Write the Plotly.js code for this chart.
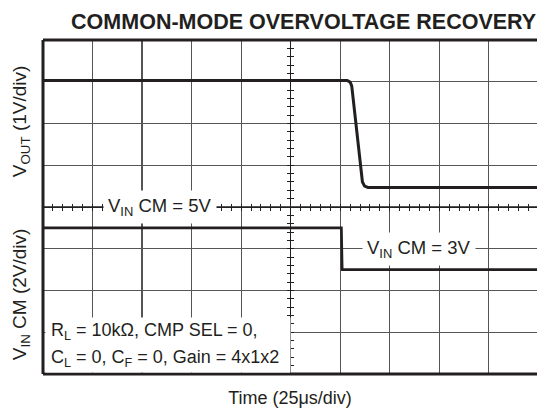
<!DOCTYPE html>
<html>
<head>
<meta charset="utf-8">
<script src="https://cdn.plot.ly/plotly-3.0.1.min.js"></script>
<style>html,body{margin:0;padding:0;background:#fff;}#chart{width:537px;height:414px;}</style>
</head>
<body>
<div id="chart"></div>
<script>
// Time axis in microseconds (25 us per division)
const timeUs = [0, 153.5, 155.0, 155.8, 161.2, 162.3, 164.0, 249.3];
// Output voltage (1 V/div, relative to screen centre)
const voutV = [3.03, 3.03, 2.99, 2.90, 0.60, 0.50, 0.47, 0.47];
// Input common-mode voltage (2 V/div)
const vinTimeUs = [0, 150.6, 151.0, 249.3];
const vinV = [5, 5, 3, 3];
const vinLabels = ['V<sub>IN</sub> CM = 5V', 'V<sub>IN</sub> CM = 3V'];
const vinLabelTime = [59, 190];
const vinLabelPos = [6, 4];

const FONT = 'Liberation Sans, Arial, Helvetica, sans-serif';
const INK = '#231f20';
const GRID = '#555555';

const traces = [
  {x: timeUs, y: voutV, type: 'scatter', mode: 'lines', xaxis: 'x', yaxis: 'y',
   line: {color: INK, width: 3}, hoverinfo: 'skip', showlegend: false},
  {x: vinTimeUs, y: vinV, type: 'scatter', mode: 'lines', xaxis: 'x', yaxis: 'y2',
   line: {color: INK, width: 2.6}, hoverinfo: 'skip', showlegend: false},
  // empty traces so the centre graticule axes are drawn
  {x: [], y: [], type: 'scatter', xaxis: 'x2', yaxis: 'y', showlegend: false, hoverinfo: 'skip'},
  {x: [], y: [], type: 'scatter', xaxis: 'x3', yaxis: 'y', showlegend: false, hoverinfo: 'skip'},
  {x: [], y: [], type: 'scatter', xaxis: 'x', yaxis: 'y3', showlegend: false, hoverinfo: 'skip'},
  {x: [], y: [], type: 'scatter', xaxis: 'x', yaxis: 'y4', showlegend: false, hoverinfo: 'skip'}
];

const centreX = (ticks) => ({
  overlaying: 'x', anchor: 'free', position: 0.5, range: [0, 249.3],
  showline: true, linecolor: INK, linewidth: 1, ticks: ticks, ticklen: 3, tickwidth: 1,
  tickcolor: INK, tick0: 0, dtick: 25, showgrid: false, zeroline: false, showticklabels: false,
  minor: {dtick: 5, ticks: ticks, ticklen: 3, tickwidth: 1, tickcolor: INK, showgrid: false}
});
const centreY = (ticks) => ({
  overlaying: 'y', anchor: 'free', position: 0.5, range: [-4, 4],
  showline: true, linecolor: INK, linewidth: 1, ticks: ticks, ticklen: 3, tickwidth: 1,
  tickcolor: INK, tick0: 0, dtick: 1, showgrid: false, zeroline: false, showticklabels: false,
  minor: {dtick: 0.2, ticks: ticks, ticklen: 3, tickwidth: 1, tickcolor: INK, showgrid: false}
});

const annFont = {family: FONT, size: 18.5, color: INK};
const boxFont = {family: FONT, size: 18, color: INK};
const annotations = [
  {text: 'V<sub>OUT</sub> (1V/div)', xref: 'paper', yref: 'paper', x: 0, xshift: -22, y: 0.757,
   xanchor: 'center', yanchor: 'middle', textangle: -90, showarrow: false,
   font: {family: FONT, size: 19, color: INK}},
  {text: 'V<sub>IN</sub> CM (2V/div)', xref: 'paper', yref: 'paper', x: 0, xshift: -22, y: 0.239,
   xanchor: 'center', yanchor: 'middle', textangle: -90, showarrow: false,
   font: {family: FONT, size: 19, color: INK}},
  {text: 'R<sub>L</sub> = 10kΩ, CMP SEL = 0,', xref: 'paper', yref: 'paper', x: 0, xshift: 1.5,
   y: 0, yshift: 28.5, xanchor: 'left', yanchor: 'bottom', align: 'left', valign: 'middle',
   width: 234, height: 17, borderpad: 5, bgcolor: '#ffffff', showarrow: false, font: boxFont},
  {text: 'C<sub>L</sub> = 0, C<sub>F</sub> = 0, Gain = 4x1x2', xref: 'paper', yref: 'paper', x: 0, xshift: 1.5,
   y: 0, yshift: 1.5, xanchor: 'left', yanchor: 'bottom', align: 'left', valign: 'middle',
   width: 234, height: 17, borderpad: 5, bgcolor: '#ffffff', showarrow: false, font: boxFont}
];
vinLabels.forEach((t, i) => annotations.push({
  text: t, xref: 'x', yref: 'y2', x: vinLabelTime[i], y: vinLabelPos[i],
  xanchor: 'center', yanchor: 'middle', showarrow: false, bgcolor: '#ffffff', borderpad: 4,
  font: annFont
}));

const layout = {
  width: 537, height: 414,
  margin: {l: 43, r: 0, t: 40, b: 40, pad: 0},
  paper_bgcolor: '#ffffff', plot_bgcolor: '#ffffff',
  showlegend: false,
  title: {text: 'COMMON-MODE OVERVOLTAGE RECOVERY', xref: 'paper', x: 0.5276, xanchor: 'center',
          yref: 'container', y: 0.949, yanchor: 'middle',
          font: {family: FONT, size: 21.5, color: INK, weight: 'bold'}},
  xaxis: {range: [0, 249.3], tick0: 0, dtick: 25, showgrid: true, gridcolor: GRID, gridwidth: 1.2,
          zeroline: false, showline: false, ticks: '', showticklabels: false,
          title: {text: 'Time (25μs/div)', font: {family: FONT, size: 18, color: INK}, standoff: 17}},
  yaxis: {range: [-4, 4], tick0: 0, dtick: 1, showgrid: true, gridcolor: GRID, gridwidth: 1.2,
          zeroline: false, showline: false, ticks: '', showticklabels: false},
  yaxis2: {overlaying: 'y', range: [-2, 14], visible: false},
  xaxis2: centreX('outside'),
  xaxis3: centreX('inside'),
  yaxis3: centreY('outside'),
  yaxis4: centreY('inside'),
  shapes: [
    {type: 'line', xref: 'paper', yref: 'paper', x0: 0, x1: 1, y0: 1, y1: 1, line: {color: INK, width: 3}},
    {type: 'line', xref: 'paper', yref: 'paper', x0: 0, x1: 1, y0: 0, y1: 0, line: {color: INK, width: 3}},
    {type: 'line', xref: 'paper', yref: 'paper', x0: 0, x1: 0, y0: 0, y1: 1, line: {color: INK, width: 3}}
  ],
  annotations: annotations
};

Plotly.newPlot('chart', traces, layout, {staticPlot: true, displayModeBar: false});
</script>
</body>
</html>
